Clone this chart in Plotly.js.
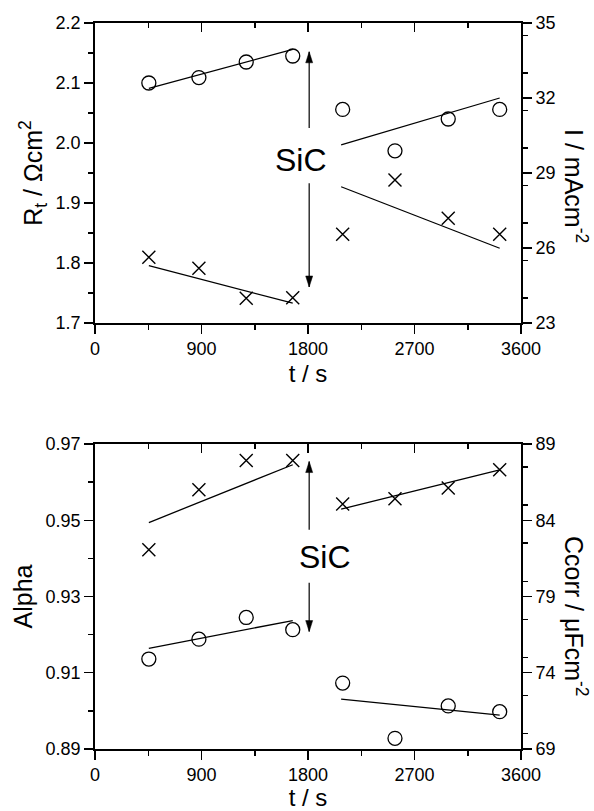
<!DOCTYPE html>
<html>
<head>
<meta charset="utf-8">
<script src="https://cdn.plot.ly/plotly-3.0.1.min.js"></script>
<style>
  html, body { margin: 0; padding: 0; background: #fff; }
  #chart { width: 594px; height: 811px; }
</style>
</head>
<body>
<div id="chart"></div>
<script>
// ---- data ----
const timeS = [455, 878, 1278, 1671, 2093, 2535, 2985, 3420];

// top panel
const rtCircles = [2.100, 2.109, 2.135, 2.145, 2.056, 1.987, 2.040, 2.056];
const iCrosses  = [25.63, 25.19, 23.99, 24.01, 26.55, 28.72, 27.19, 26.55];

// bottom panel
const alphaCircles = [0.9136, 0.9188, 0.9245, 0.9213, 0.9073, 0.8928, 0.9013, 0.8998];
const ccorrCrosses = [82.06, 86.00, 87.92, 87.92, 85.06, 85.41, 86.11, 87.31];

// fitted lines (end points), before and after SiC addition
const fitTimeBefore = [455, 1671];
const fitTimeAfter  = [2080, 3420];
const rtFitBefore    = [2.091, 2.156];
const rtFitAfter     = [1.997, 2.075];
const iFitBefore     = [25.29, 23.79];
const iFitAfter      = [28.45, 25.99];
const alphaFitBefore = [0.9164, 0.9237];
const alphaFitAfter  = [0.9031, 0.8989];
const ccorrFitBefore = [83.85, 87.64];
const ccorrFitAfter  = [84.73, 87.31];

// tick values
const xTicks = [0, 900, 1800, 2700, 3600];
const rtTicks = [1.7, 1.8, 1.9, 2.0, 2.1, 2.2];
const iTicks = [23, 26, 29, 32, 35];
const alphaTicks = [0.89, 0.91, 0.93, 0.95, 0.97];
const ccorrTicks = [69, 74, 79, 84, 89];

// SiC addition time
const sicTime = 1810;

// ---- styling ----
const FONT = 'Liberation Sans, Arial, Helvetica, sans-serif';
const BLACK = '#000';
const circleMarker = {symbol: 'circle-open', size: 14, color: BLACK, line: {color: BLACK, width: 1.3}};
const crossMarker = {symbol: 'x-thin-open', size: 13, color: BLACK, line: {color: BLACK, width: 1.4}};
const fitLine = {color: BLACK, width: 1.3};

function pts(x, y, xa, ya, marker) {
  return {x, y, xaxis: xa, yaxis: ya, type: 'scatter', mode: 'markers', marker, showlegend: false, hoverinfo: 'x+y'};
}
function fit(x, y, xa, ya) {
  return {x, y, xaxis: xa, yaxis: ya, type: 'scatter', mode: 'lines', line: fitLine, showlegend: false, hoverinfo: 'skip'};
}

const traces = [
  fit(fitTimeBefore, rtFitBefore, 'x', 'y'),
  fit(fitTimeAfter, rtFitAfter, 'x', 'y'),
  pts(timeS, rtCircles, 'x', 'y', circleMarker),
  fit(fitTimeBefore, iFitBefore, 'x', 'y2'),
  fit(fitTimeAfter, iFitAfter, 'x', 'y2'),
  pts(timeS, iCrosses, 'x', 'y2', crossMarker),
  {x: [], y: [], xaxis: 'x2', yaxis: 'y', type: 'scatter', showlegend: false},

  fit(fitTimeBefore, alphaFitBefore, 'x3', 'y3'),
  fit(fitTimeAfter, alphaFitAfter, 'x3', 'y3'),
  pts(timeS, alphaCircles, 'x3', 'y3', circleMarker),
  fit(fitTimeBefore, ccorrFitBefore, 'x3', 'y4'),
  fit(fitTimeAfter, ccorrFitAfter, 'x3', 'y4'),
  pts(timeS, ccorrCrosses, 'x3', 'y4', crossMarker),
  {x: [], y: [], xaxis: 'x4', yaxis: 'y3', type: 'scatter', showlegend: false}
];

const tickFont = {family: FONT, size: 18, color: BLACK};
const titleFont = {family: FONT, size: 25, color: BLACK};
const xTitleFont = {family: FONT, size: 24, color: BLACK};

function baseAxis(extra) {
  return Object.assign({
    showline: true, linecolor: BLACK, linewidth: 1.8,
    showgrid: false, zeroline: false,
    ticks: 'outside', ticklen: 9, tickwidth: 1.5, tickcolor: BLACK,
    tickfont: tickFont, mirror: false, automargin: false
  }, extra);
}
function minorTicks(dtick, side) {
  return {dtick: dtick, ticklen: 5, ticks: side, tickwidth: 1.5, tickcolor: BLACK};
}

const TOP_DOMAIN = [0.5868, 1];
const BOT_DOMAIN = [0, 0.4201];

// arrow helpers (line + filled head)
function arrow(xr, yr, tail, tip, up) {
  const path = up ? 'M -3.5,-11 L 3.5,-11 L 0,0 Z' : 'M -3.5,11 L 3.5,11 L 0,0 Z';
  return [
    {type: 'line', xref: xr, yref: yr, x0: sicTime, x1: sicTime, y0: tail, y1: tip,
     line: {color: BLACK, width: 1.2}},
    {type: 'path', xref: xr, yref: yr, xsizemode: 'pixel', ysizemode: 'pixel',
     xanchor: sicTime, yanchor: tip, path: path, fillcolor: BLACK, line: {color: BLACK, width: 0.5}}
  ];
}

const layout = {
  width: 594, height: 811,
  margin: {l: 95, r: 73, t: 23, b: 62},
  paper_bgcolor: '#fff', plot_bgcolor: '#fff',
  font: {family: FONT, color: BLACK},
  showlegend: false,

  xaxis: baseAxis({
    domain: [0, 1], anchor: 'y', range: [0, 3600], tickvals: xTicks,
    minor: minorTicks(450, 'outside'),
    title: {text: 't / s', font: xTitleFont, standoff: 7}
  }),
  xaxis2: baseAxis({
    overlaying: 'x', side: 'top', anchor: 'y', range: [0, 3600], tickvals: xTicks,
    ticks: 'inside', showticklabels: false, minor: minorTicks(450, 'inside')
  }),
  yaxis: baseAxis({
    domain: TOP_DOMAIN, anchor: 'x', range: [1.7, 2.2], tickvals: rtTicks, tickformat: '.1f',
    minor: minorTicks(0.05, 'outside'),
    title: {text: 'R<sub>t</sub> / Ωcm<sup>2</sup>', font: titleFont, standoff: 6}
  }),
  yaxis2: baseAxis({
    overlaying: 'y', side: 'right', anchor: 'x', range: [23, 35], tickvals: iTicks,
    minor: minorTicks(1.5, 'outside')
  }),

  xaxis3: baseAxis({
    domain: [0, 1], anchor: 'y3', range: [0, 3600], tickvals: xTicks,
    minor: minorTicks(450, 'outside'),
    title: {text: 't / s', font: xTitleFont, standoff: 7}
  }),
  xaxis4: baseAxis({
    overlaying: 'x3', side: 'top', anchor: 'y3', range: [0, 3600], tickvals: xTicks,
    ticks: 'inside', showticklabels: false, minor: minorTicks(450, 'inside')
  }),
  yaxis3: baseAxis({
    domain: BOT_DOMAIN, anchor: 'x3', range: [0.89, 0.97], tickvals: alphaTicks, tickformat: '.2f',
    minor: minorTicks(0.01, 'outside'),
    title: {text: 'Alpha', font: titleFont, standoff: 6}
  }),
  yaxis4: baseAxis({
    overlaying: 'y3', side: 'right', anchor: 'x3', range: [69, 89], tickvals: ccorrTicks,
    minor: minorTicks(2.5, 'outside')
  }),

  shapes: [].concat(
    arrow('x', 'y', 2.025, 2.152, true),
    arrow('x', 'y', 1.933, 1.760, false),
    arrow('x3', 'y3', 0.9475, 0.9654, true),
    arrow('x3', 'y3', 0.9336, 0.9208, false)
  ),

  annotations: [
    // right-hand axis titles, read top to bottom as in the reference
    {xref: 'paper', yref: 'paper', x: 1.129, y: 0.7755, text: 'I / mAcm<sup>-2</sup>',
     textangle: 90, showarrow: false, font: titleFont, xanchor: 'center', yanchor: 'middle'},
    {xref: 'paper', yref: 'paper', x: 1.129, y: 0.1818, text: 'Ccorr / μFcm<sup>-2</sup>',
     textangle: 90, showarrow: false, font: titleFont, xanchor: 'center', yanchor: 'middle'},

    {xref: 'x', yref: 'y', x: 1745, y: 1.972, text: 'SiC', showarrow: false,
     font: {family: FONT, size: 32, color: BLACK}},
    {xref: 'x3', yref: 'y3', x: 1944, y: 0.9404, text: 'SiC', showarrow: false,
     font: {family: FONT, size: 32, color: BLACK}}
  ]
};

Plotly.newPlot('chart', traces, layout, {displayModeBar: false, staticPlot: true});
</script>
</body>
</html>
